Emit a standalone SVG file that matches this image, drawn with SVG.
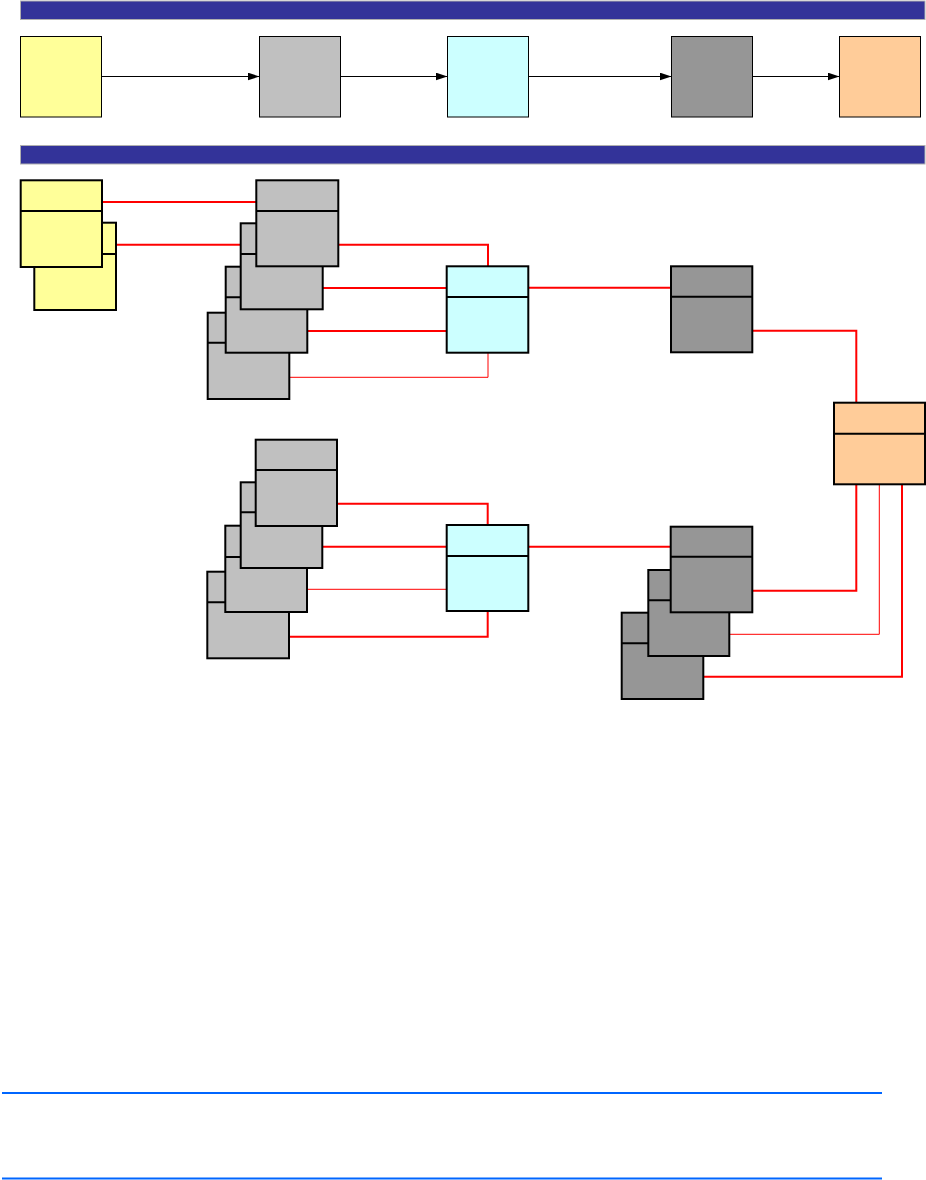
<svg xmlns="http://www.w3.org/2000/svg" width="926" height="1180" viewBox="0 0 926 1180">
<style>
.bar{fill:#333399;stroke:#b0b0b0;stroke-width:1}
.t{stroke:#000;stroke-width:1}
.n{stroke:#000;stroke-width:2}
.y{fill:#ffff99}
.g{fill:#c0c0c0}
.c{fill:#ccffff}
.d{fill:#969696}
.o{fill:#ffcc99}
.dv{stroke:#000;stroke-width:2}
.ar{fill:none;stroke:#000;stroke-width:1}
.r{fill:none;stroke:#ff0000;stroke-width:2}
.rt{fill:none;stroke:#ff0000;stroke-width:1}
.bl{stroke:#0066ff;stroke-width:2}
</style>
<defs>
<marker id="ah" viewBox="0 0 12 8" refX="12" refY="4" markerWidth="12" markerHeight="8" markerUnits="userSpaceOnUse" orient="auto">
<path d="M0,0 L12,4 L0,8 z" fill="#000"/>
</marker>
</defs>
<rect width="926" height="1180" fill="#fff"/>
<g id="bars">
<rect class="bar" x="20.5" y="1" width="904.5" height="18.5"/>
<rect class="bar" x="20.5" y="145.5" width="904.5" height="18.5"/>
</g>
<g id="top-row">
<g id="t1"><rect class="t y" x="20.5" y="36.5" width="81" height="80.5"/></g>
<g id="t2"><rect class="t g" x="259.5" y="36.5" width="81" height="80.5"/></g>
<g id="t3"><rect class="t c" x="447.5" y="36.5" width="81" height="80.5"/></g>
<g id="t4"><rect class="t d" x="671.5" y="36.5" width="81" height="80.5"/></g>
<g id="t5"><rect class="t o" x="839.5" y="36.5" width="81" height="80.5"/></g>
</g>
<g id="connectors">
<line class="ar" x1="101.5" y1="76.5" x2="259.5" y2="76.5" marker-end="url(#ah)"/>
<line class="ar" x1="340.5" y1="76.5" x2="447.5" y2="76.5" marker-end="url(#ah)"/>
<line class="ar" x1="528.5" y1="76.5" x2="671.5" y2="76.5" marker-end="url(#ah)"/>
<line class="ar" x1="752.5" y1="76.5" x2="839.5" y2="76.5" marker-end="url(#ah)"/>
<path class="r" d="M102,202 H256"/>
<path class="r" d="M116,244.7 H241"/>
<path class="r" d="M338,244.7 H488 V266.5"/>
<path class="r" d="M322.7,288 H447"/>
<path class="r" d="M307.3,331 H447"/>
<path class="rt" d="M289.3,377.3 H488 V352.7"/>
<path class="r" d="M528.3,287.7 H671"/>
<path class="r" d="M752.3,330.7 H856.3 V402.7"/>
<path class="r" d="M337,503.7 H487.7 V525"/>
<path class="r" d="M322.3,546.7 H447"/>
<path class="rt" d="M307,589.3 H447"/>
<path class="r" d="M289,636.7 H487.7 V611"/>
<path class="r" d="M528.3,546.7 H670.7"/>
<path class="r" d="M856.3,484.3 V590.7 H752.3"/>
<path class="rt" d="M879.3,484.3 V634.3 H729.3"/>
<path class="r" d="M902,484.3 V676.7 H703.3"/>
</g>
<g id="yellow-stack">
<g id="y2"><rect class="n y" x="34.3" y="222.7" width="81.7" height="87.3"/><line class="dv" x1="34.3" y1="254" x2="116" y2="254"/></g>
<g id="y1"><rect class="n y" x="20.7" y="180.3" width="81.3" height="86.7"/><line class="dv" x1="20.7" y1="211" x2="102" y2="211"/></g>
</g>
<g id="gray-stack-1">
<g id="g1d"><rect class="n g" x="207.7" y="312.7" width="81.6" height="86.3"/><line class="dv" x1="207.7" y1="342.7" x2="289.3" y2="342.7"/></g>
<g id="g1c"><rect class="n g" x="225.7" y="266.7" width="81.6" height="86"/><line class="dv" x1="225.7" y1="297.3" x2="307.3" y2="297.3"/></g>
<g id="g1b"><rect class="n g" x="240.7" y="223.3" width="82" height="86"/><line class="dv" x1="240.7" y1="254" x2="322.7" y2="254"/></g>
<g id="g1a"><rect class="n g" x="256.3" y="180.3" width="82" height="86"/><line class="dv" x1="256.3" y1="211" x2="338.3" y2="211"/></g>
</g>
<g id="cyan-1"><rect class="n c" x="446.7" y="266.3" width="81.6" height="86.4"/><line class="dv" x1="446.7" y1="297" x2="528.3" y2="297"/></g>
<g id="dark-1"><rect class="n d" x="671" y="266.3" width="81.3" height="86"/><line class="dv" x1="671" y1="296.7" x2="752.3" y2="296.7"/></g>
<g id="orange"><rect class="n o" x="834" y="402.7" width="91" height="81.6"/><line class="dv" x1="834" y1="433.7" x2="925" y2="433.7"/></g>
<g id="gray-stack-2">
<g id="g2d"><rect class="n g" x="207.3" y="571.7" width="81.7" height="86.6"/><line class="dv" x1="207.3" y1="602.3" x2="289" y2="602.3"/></g>
<g id="g2c"><rect class="n g" x="225.3" y="525.7" width="81.7" height="86.3"/><line class="dv" x1="225.3" y1="557" x2="307" y2="557"/></g>
<g id="g2b"><rect class="n g" x="240.7" y="482.3" width="81.6" height="85.7"/><line class="dv" x1="240.7" y1="512.3" x2="322.3" y2="512.3"/></g>
<g id="g2a"><rect class="n g" x="255.7" y="439.7" width="81.3" height="86.3"/><line class="dv" x1="255.7" y1="470" x2="337" y2="470"/></g>
</g>
<g id="cyan-2"><rect class="n c" x="446.7" y="525" width="81.6" height="86"/><line class="dv" x1="446.7" y1="556" x2="528.3" y2="556"/></g>
<g id="dark-stack-2">
<g id="d2c"><rect class="n d" x="621.7" y="612.7" width="81.6" height="86.3"/><line class="dv" x1="621.7" y1="643.3" x2="703.3" y2="643.3"/></g>
<g id="d2b"><rect class="n d" x="648.3" y="570" width="81" height="86"/><line class="dv" x1="648.3" y1="600.3" x2="729.3" y2="600.3"/></g>
<g id="d2a"><rect class="n d" x="670.7" y="526.7" width="81.6" height="85.6"/><line class="dv" x1="670.7" y1="556.7" x2="752.3" y2="556.7"/></g>
</g>
<g id="footer-lines">
<line class="bl" x1="2" y1="1093" x2="882" y2="1093"/>
<line class="bl" x1="2" y1="1178.5" x2="882" y2="1178.5"/>
</g>
</svg>
